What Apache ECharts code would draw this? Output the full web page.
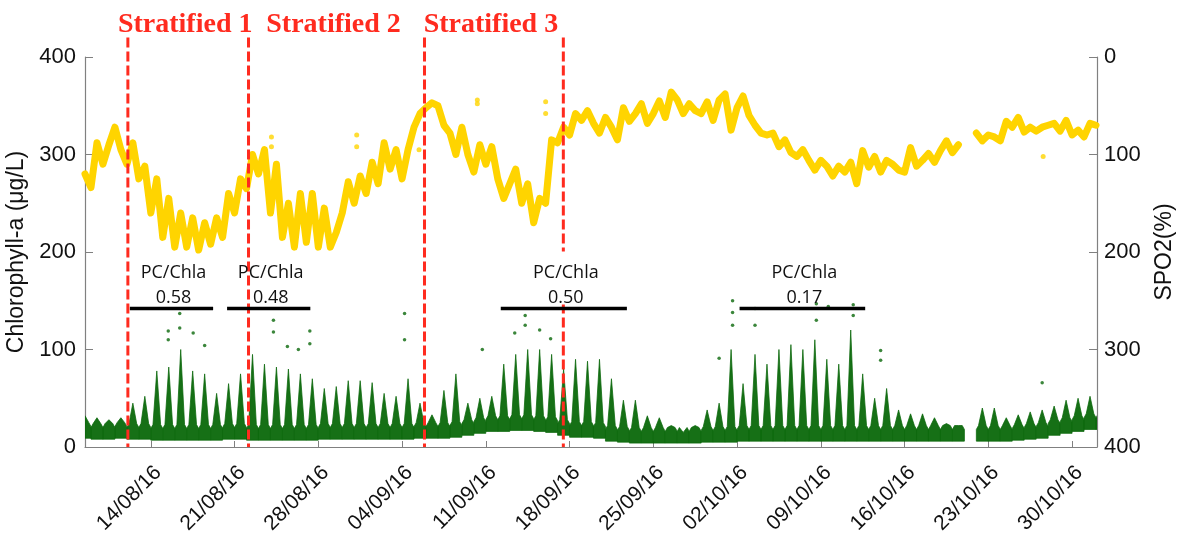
<!DOCTYPE html>
<html>
<head>
<meta charset="utf-8">
<script src="https://cdn.jsdelivr.net/npm/echarts@6.0.0/dist/echarts.min.js"></script>
<style>
  html, body { margin: 0; padding: 0; background: #fff; }
  #main { width: 1177px; height: 533px; }
</style>
</head>
<body>
<div id="main"></div>
<script>
// x tick labels (dd/mm/yy), one per week
const tickLabels = ['14/08/16', '21/08/16', '28/08/16', '04/09/16', '11/09/16', '18/09/16',
  '25/09/16', '02/10/16', '09/10/16', '16/10/16', '23/10/16', '30/10/16'];

// SPO2 (%), right axis (inverted): one reading every 12 h from 08/08/16 12:00
const spo2 = [
  120, 134, 88, 110, 90, 72, 95, 110, 88, 125,
  112, 160, 125, 185, 145, 195, 160, 195, 165, 198,
  170, 192, 165, 185, 140, 160, 125, 135, 100, 120,
  95, 160, 110, 185, 150, 195, 140, 190, 140, 195,
  155, 195, 180, 160, 128, 150, 122, 140, 108, 130,
  88, 115, 95, 125, 95, 72, 58, 52, 47, 50,
  70, 78, 100, 72, 100, 118, 90, 110, 92, 125,
  145, 130, 115, 150, 130, 170, 145, 150, 85, 88,
  72, 80, 58, 65, 55, 68, 78, 62, 72, 85,
  52, 66, 58, 48, 68, 58, 45, 62, 36, 44,
  58, 48, 55, 58, 46, 65, 44, 38, 75, 52,
  40, 60, 70, 78, 80, 78, 92, 85, 98, 102,
  95, 106, 116, 106, 112, 122, 112, 118, 108, 130,
  96, 113, 102, 118, 106, 110, 116, 118, 93, 112,
  106, 99, 108, 96, 86, 98, 90, null, null, 78,
  86, 80, 82, 86, 66, 72, 62, 77, 72, 76,
  72, 70, 68, 76, 65, 80, 75, 82, 68, 70
];
const spo2Outliers = [
  ['2016-08-24 02:00', 82], ['2016-08-24 02:00', 92],
  ['2016-08-31 05:00', 80], ['2016-08-31 05:00', 92],
  ['2016-09-05 10:00', 95],
  ['2016-09-10 07:00', 44], ['2016-09-10 07:00', 48],
  ['2016-09-16 00:00', 46], ['2016-09-16 00:00', 58],
  ['2016-10-27 14:00', 102]
];

// Chlorophyll-a (ug/L): one daily cycle per day from 08/08/16, night floor and daytime peak
const chlLow = [
  9, 8, 8, 9, 8, 8,
  7, 7, 7, 7, 7, 7, 8, 8, 7, 7, 7, 7, 7, 7, 8, 8,
  8, 8, 8, 8, 8, 8, 9, 9, 9, 10, 12, 14, 16, 16, 17, 17, 16, 15, 12, 10, 10,
  9, 6, 5, 4, 4, 4, 4, 4, 4, 5, 5, 5, 6, 6, 6, 6, 6, 6, 6, 6, 6,
  6, 6, 6, 6, 6, 6, 6, 6, 6, 6, null, 6, 6, 6, 7, 8, 9, 12, 14, 16, 18, 18
];
const chlPeak = [
  32, 30, 28, 30, 45, 52,
  78, 82, 100, 78, 75, 55, 65, 75, 95, 85, 82, 80, 75, 70, 60, 62,
  68, 68, 66, 55, 52, 70, 45, 33, 58, 75, 45, 50, 52, 85, 95, 100, 100, 95, 80, 90, 88,
  90, 70, 48, 48, 32, 30, 22, 15, 22, 38, 45, 100, 65, 95, 85, 100, 105, 100, 110, 90, 85,
  120, 75, 50, 60, 38, 34, 34, 30, 24, 22, null, 40, 40, 30, 33, 36, 38, 42, 48, 50, 52, 48
];
const chlOutliers = [
  ['2016-08-15 11:00', 119], ['2016-08-15 11:00', 110],
  ['2016-08-16 10:00', 137], ['2016-08-16 10:00', 122],
  ['2016-08-17 13:00', 117], ['2016-08-18 12:00', 104],
  ['2016-08-24 06:00', 130], ['2016-08-24 06:00', 118],
  ['2016-08-25 10:00', 103], ['2016-08-26 08:00', 100],
  ['2016-08-27 07:00', 119], ['2016-08-27 07:00', 106],
  ['2016-09-04 05:00', 137], ['2016-09-04 05:00', 110],
  ['2016-09-10 17:00', 100], ['2016-09-13 10:00', 117],
  ['2016-09-14 07:00', 135], ['2016-09-14 07:00', 125],
  ['2016-09-15 12:00', 120], ['2016-09-16 10:00', 111],
  ['2016-09-30 12:00', 91],
  ['2016-10-01 15:00', 150], ['2016-10-01 15:00', 138], ['2016-10-01 15:00', 125],
  ['2016-10-03 12:00', 142], ['2016-10-03 12:00', 125],
  ['2016-10-08 15:00', 147], ['2016-10-08 15:00', 130],
  ['2016-10-09 15:00', 144],
  ['2016-10-11 17:00', 146], ['2016-10-11 17:00', 135],
  ['2016-10-14 00:00', 99], ['2016-10-14 00:00', 89],
  ['2016-10-27 12:00', 66]
];

// stratification boundaries (red dashed lines) and period names
const stratTimes = ['2016-08-12 02:00', '2016-08-22 04:00', '2016-09-05 21:00', '2016-09-17 11:30'];
const stratNames = ['Stratified 1', 'Stratified 2', 'Stratified 3'];

// PC/Chla windows
const pcStart = ['2016-08-12 06:00', '2016-08-20 09:00', '2016-09-12 06:00', '2016-10-02 05:00'];
const pcEnd = ['2016-08-19 05:00', '2016-08-27 08:00', '2016-09-22 19:00', '2016-10-12 17:00'];
const pcRatio = ['0.58', '0.48', '0.50', '0.17'];
const pcLevel = 142;

function ts(s) {
  const [d, h] = s.split(' ');
  const [y, m, dd] = d.split('-').map(Number);
  const [hh, mm] = (h || '0:0').split(':').map(Number);
  return new Date(y, m - 1, dd, hh, mm).getTime();
}

const DAY = 864e5;
const tickTimes = tickLabels.map(l => {
  const [dd, mm, yy] = l.split('/').map(Number);
  return new Date(2000 + yy, mm - 1, dd).getTime();
});

const spo2Data = spo2.map((v, k) => [new Date(2016, 7, 8, 12 + 12 * k).getTime(), v == null ? '-' : v]);
const chlData = chlPeak.map((v, j) => [new Date(2016, 7, 8 + j, 12).getTime(), chlLow[j] == null ? '-' : chlLow[j], v == null ? '-' : v]);
const stratData = stratTimes.map(t => [ts(t), 420]);
const periodData = stratNames.map((n, i) => [ts(stratTimes[i]), ts(stratTimes[i + 1]), 420]);
const pcData = pcStart.map((s, i) => [ts(s), ts(pcEnd[i]), pcLevel]);

const AXIS = '#808080';
const TXT = '#111';
const RED = '#ff2b1f';
const GREEN = '#0a680a';
const YELLOW = '#ffd400';
const SANS = 'Liberation Sans';

const chart = echarts.init(document.getElementById('main'));

chart.setOption({
  animation: false,
  grid: { left: 85, right: 80, top: 57, bottom: 86, outerBoundsMode: 'none', containLabel: false },
  xAxis: {
    type: 'value',
    min: ts('2016-08-08 12:00'),
    max: ts('2016-11-01 02:00'),
    axisLine: { lineStyle: { color: AXIS, width: 1.2 } },
    axisTick: { inside: true, length: 6, customValues: tickTimes, lineStyle: { color: AXIS } },
    axisLabel: {
      customValues: tickTimes,
      formatter: v => {
        let best = 0;
        tickTimes.forEach((t, i) => { if (Math.abs(t - v) < Math.abs(tickTimes[best] - v)) best = i; });
        return tickLabels[best];
      },
      rotate: 45, verticalAlign: 'top', fontSize: 21, fontFamily: SANS, color: TXT, margin: 15
    },
    splitLine: { show: false }
  },
  yAxis: [{
    type: 'value', min: 0, max: 400, interval: 100, position: 'left',
    name: 'Chlorophyll-a (μg/L)', nameLocation: 'middle', nameGap: 49, nameRotate: 90,
    nameTextStyle: { fontSize: 23, fontFamily: SANS, color: TXT },
    axisLine: { show: true, lineStyle: { color: AXIS, width: 1.2 } },
    axisTick: { show: true, inside: true, length: 8, lineStyle: { color: AXIS } },
    axisLabel: { fontSize: 22, fontFamily: SANS, color: TXT, margin: 9 },
    splitLine: { show: false }
  }, {
    type: 'value', min: 0, max: 400, interval: 100, position: 'right', inverse: true,
    name: 'SPO2(%)', nameLocation: 'middle', nameGap: 56, nameRotate: 90,
    nameTextStyle: { fontSize: 23, fontFamily: SANS, color: TXT },
    axisLine: { show: true, lineStyle: { color: AXIS, width: 1.2 } },
    axisTick: { show: true, inside: true, length: 8, lineStyle: { color: AXIS } },
    axisLabel: { fontSize: 22, fontFamily: SANS, color: TXT, margin: 7 },
    splitLine: { show: false }
  }],
  series: [{
    // daily chlorophyll cycles: a floor band plus a narrow daytime spike
    type: 'custom',
    yAxisIndex: 0,
    clip: true,
    z: 2,
    data: chlData,
    encode: { x: 0, y: [1, 2] },
    renderItem: (params, api) => {
      const t = api.value(0), lo = api.value(1), hi = api.value(2);
      if (isNaN(lo) || isNaN(hi)) return;
      const half = DAY / 2, w = DAY * 0.32;
      const base = lo + 12;
      const pts = [[t - half, lo], [t - half, base], [t - w, base + 4], [t, hi], [t + w, base + 4], [t + half, base], [t + half, lo]]
        .map(p => api.coord(p));
      return { type: 'polygon', shape: { points: pts }, style: { fill: GREEN, stroke: GREEN, lineWidth: 0.8, opacity: 0.95 } };
    }
  }, {
    type: 'scatter',
    yAxisIndex: 0,
    z: 2,
    symbolSize: 3.5,
    itemStyle: { color: GREEN },
    data: chlOutliers.map(d => [ts(d[0]), d[1]])
  }, {
    type: 'line',
    yAxisIndex: 1,
    z: 3,
    showSymbol: false,
    connectNulls: false,
    lineStyle: { color: YELLOW, width: 7, join: 'round', cap: 'round' },
    data: spo2Data
  }, {
    type: 'scatter',
    yAxisIndex: 1,
    z: 3,
    symbolSize: 5,
    itemStyle: { color: YELLOW },
    data: spo2Outliers.map(d => [ts(d[0]), d[1]])
  }, {
    // red dashed stratification boundaries
    type: 'custom',
    yAxisIndex: 0,
    clip: false,
    z: 5,
    data: stratData,
    encode: { x: 0, y: 1 },
    renderItem: (params, api) => {
      const top = api.coord([api.value(0), api.value(1)]);
      const bot = api.coord([api.value(0), 0]);
      return {
        type: 'line',
        shape: { x1: top[0], y1: top[1], x2: bot[0], y2: bot[1] },
        style: { stroke: RED, lineWidth: 3, lineDash: [10, 4] }
      };
    }
  }, {
    // "Stratified n" titles centred between boundaries
    type: 'custom',
    yAxisIndex: 0,
    clip: false,
    z: 6,
    data: periodData,
    encode: { x: [0, 1], y: 2 },
    renderItem: (params, api) => {
      const a = api.coord([api.value(0), 0]);
      const b = api.coord([api.value(1), 0]);
      return {
        type: 'text',
        style: {
          text: stratNames[params.dataIndex],
          x: (a[0] + b[0]) / 2 - 3, y: 25,
          fill: RED, fontFamily: 'Liberation Serif', fontWeight: 'bold', fontSize: 28,
          align: 'center', verticalAlign: 'middle'
        }
      };
    }
  }, {
    // PC/Chla windows
    type: 'custom',
    yAxisIndex: 0,
    clip: false,
    z: 6,
    data: pcData,
    encode: { x: [0, 1], y: 2 },
    renderItem: (params, api) => {
      const a = api.coord([api.value(0), api.value(2)]);
      const b = api.coord([api.value(1), api.value(2)]);
      const cx = (a[0] + b[0]) / 2;
      const children = [];
      if (params.dataIndex === 2) {
        children.push({ type: 'rect', shape: { x: cx - 40, y: a[1] - 57, width: 80, height: 53 }, style: { fill: '#fff' } });
      }
      children.push({
        type: 'text',
        style: { text: 'PC/Chla', x: cx + 2, y: a[1] - 36, fill: '#111', fontFamily: 'Open Sans', fontSize: 18, align: 'center', verticalAlign: 'middle' }
      }, {
        type: 'text',
        style: { text: pcRatio[params.dataIndex], x: cx + 2, y: a[1] - 11, fill: '#111', fontFamily: 'Open Sans', fontSize: 18, align: 'center', verticalAlign: 'middle' }
      }, {
        type: 'line',
        shape: { x1: a[0], y1: a[1], x2: b[0], y2: b[1] },
        style: { stroke: '#000', lineWidth: 3.5 }
      });
      return { type: 'group', children };
    }
  }]
});
</script>
</body>
</html>
